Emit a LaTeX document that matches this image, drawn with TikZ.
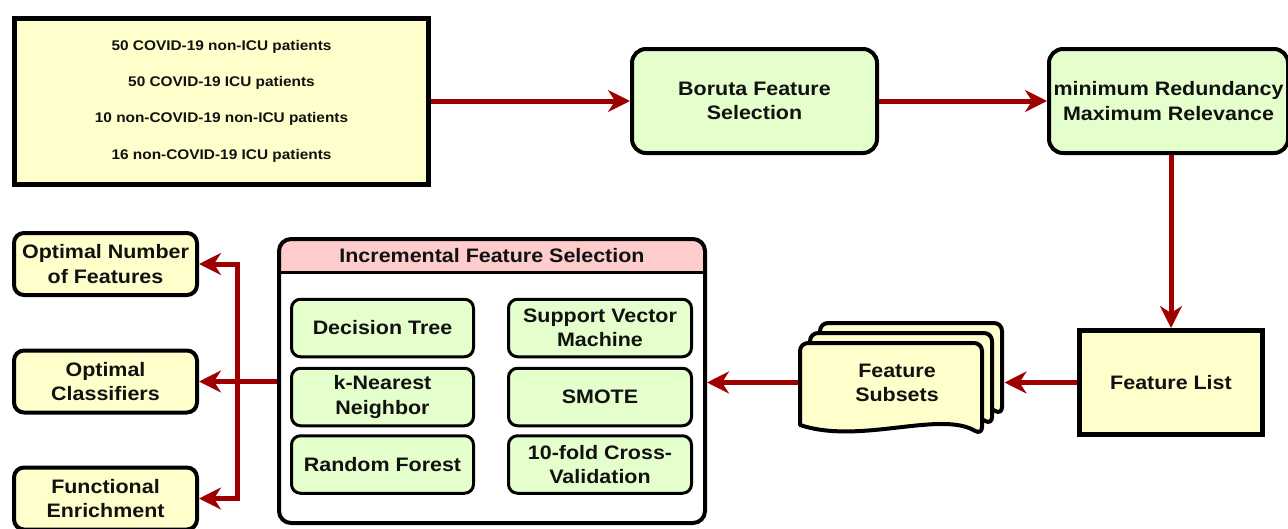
\documentclass[tikz,border=0pt]{standalone}
\usepackage{fontspec}
\setmainfont{Liberation Sans}[FakeStretch=1.1]
\usetikzlibrary{arrows.meta}
\definecolor{yellowc}{RGB}{255,255,204}
\definecolor{greenc}{RGB}{229,255,204}
\definecolor{pinkc}{RGB}{255,204,204}
\definecolor{arrowc}{RGB}{158,0,0}
\definecolor{inkc}{RGB}{17,17,17}
\tikzset{
  base/.style={draw=black, text=inkc, font=\bfseries\fontsize{19.5}{24.5}\selectfont, align=center, inner sep=0pt},
  databox/.style={base, fill=yellowc, line width=5pt, font=\bfseries\fontsize{14}{36.3}\selectfont},
  squarebox/.style={base, fill=yellowc, line width=5pt},
  greenbig/.style={base, fill=greenc, line width=4pt, rounded corners=14pt, minimum width=245pt, minimum height=104pt},
  outbox/.style={base, fill=yellowc, line width=4pt, rounded corners=10pt, minimum width=183pt, minimum height=62pt},
  algbox/.style={base, fill=greenc, line width=3pt, rounded corners=9pt, minimum height=57.5pt},
  docst/.style={draw=black, fill=yellowc, line width=4pt, line join=round},
  plaintext/.style={text=inkc, font=\bfseries\fontsize{19.5}{24.5}\selectfont, align=center, inner sep=0pt},
  arr/.style={draw=arrowc, line width=5pt, -{Stealth[length=22pt,width=22pt,inset=7pt]}},
  link/.style={draw=arrowc, line width=5pt},
}
\newcommand{\docpath}[2]{%
  \path[docst, shift={(#1,#2)}] (800,390) [rounded corners=8pt] -- (800,343) -- (982,343) -- (982,435)
    [sharp corners] .. controls (940,410) and (860,445) .. (800,425) -- cycle;}
\begin{document}
\begin{tikzpicture}[x=1pt,y=-1pt]
\useasboundingbox (0,0) rectangle (1288,528);

% top row
\node[databox, minimum width=414pt, minimum height=166pt] (data) at (221.5,101)
  {50 COVID-19 non-ICU patients\\50 COVID-19 ICU patients\\10 non-COVID-19 non-ICU patients\\16 non-COVID-19 ICU patients};
\node[greenbig] (boruta) at (754.5,101) {Boruta Feature\\Selection};
\node[greenbig, minimum width=239pt] (mrmr) at (1168.5,101) {minimum Redundancy\\Maximum Relevance};

% feature list
\node[squarebox, minimum width=183pt, minimum height=104pt] (flist) at (1171,382.5) {Feature List};

% feature subsets (multi-document)
\docpath{20}{-20}
\docpath{10}{-10}
\docpath{0}{0}
\node[plaintext] (subs) at (897,383) {Feature\\Subsets};
\coordinate (subsE) at (1004.5,382.5);
\coordinate (subsW) at (797.5,382.5);

% incremental feature selection container
\fill[white, rounded corners=12pt] (279,239) rectangle (705,523);
\begin{scope}
  \clip[rounded corners=12pt] (279,239) rectangle (705,523);
  \fill[pinkc] (279,239) rectangle (705,272);
\end{scope}
\draw[line width=3pt] (279,272) -- (705,272);
\node[draw=black, line width=4pt, rounded corners=12pt, minimum width=426pt, minimum height=284pt, inner sep=0pt] (ifs) at (492,381) {};
\node[plaintext] (ifsh) at (492,255.5) {Incremental Feature Selection};

\node[algbox, minimum width=182pt] (dt)  at (382.5,328) {Decision Tree};
\node[algbox, minimum width=182pt] (knn) at (382.5,397) {k-Nearest\\Neighbor};
\node[algbox, minimum width=182pt] (rf)  at (382.5,464.5) {Random Forest};
\node[algbox, minimum width=183pt] (svm) at (600,328) {Support Vector\\Machine};
\node[algbox, minimum width=183pt] (smote) at (600,397) {SMOTE};
\node[algbox, minimum width=183pt] (cv)  at (600,464.5) {10-fold Cross-\\Validation};

% outputs
\node[outbox] (onf) at (105.5,264) {Optimal Number\\of Features};
\node[outbox] (oc)  at (105.5,381.5) {Optimal\\Classifiers};
\node[outbox] (fe)  at (105.5,498.5) {Functional\\Enrichment};

% connectors
\draw[arr] (data.east |- boruta.west) -- (boruta.west);
\draw[arr] (boruta.east) -- (mrmr.west |- boruta.east);
\draw[arr] (mrmr.south -| flist.north) -- (flist.north);
\draw[arr] (flist.west) -- (subsE);
\draw[arr] (subsW) -- (subsW -| ifs.east);
\coordinate (jn) at (237,381.5);
\draw[arr] (ifs.west |- oc.east) -- (oc.east);
\draw[arr, line join=miter] (jn) |- (onf.east);
\draw[arr, line join=miter] (jn) |- (fe.east);
\end{tikzpicture}
\end{document}
